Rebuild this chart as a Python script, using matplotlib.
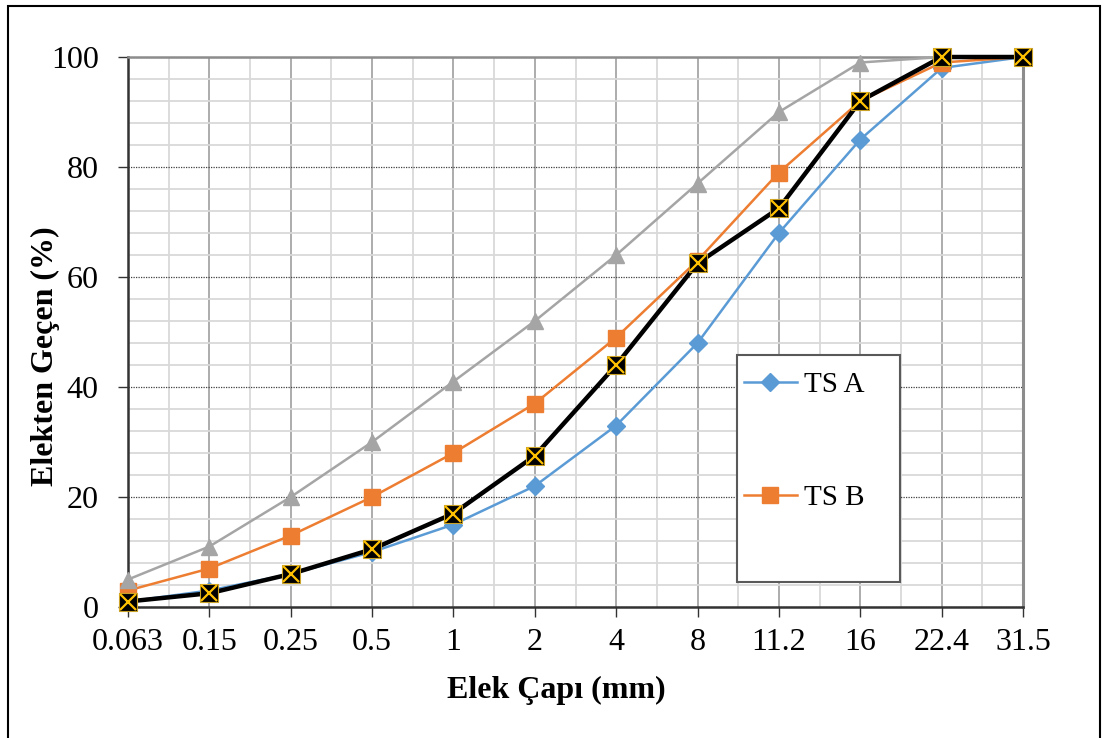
import numpy as np
import matplotlib as mpl
import matplotlib.pyplot as plt
from matplotlib.patches import Rectangle
from matplotlib.ticker import MultipleLocator

mpl.rcParams['font.family'] = 'Liberation Serif'

# sieve sizes (mm) and passing percentages
sieves = ['0.063', '0.15', '0.25', '0.5', '1', '2', '4', '8', '11.2', '16', '22.4', '31.5']
ts_a = [1, 3, 6, 10, 15, 22, 33, 48, 68, 85, 98, 100]
ts_b = [3, 7, 13, 20, 28, 37, 49, 63, 79, 92, 99, 100]
upper = [5, 11, 20, 30, 41, 52, 64, 77, 90, 99, 100, 100]
mix = [1, 2.5, 6, 10.5, 17, 27.5, 44, 62.5, 72.5, 92, 100, 100]

W, H = 1105, 738
fig = plt.figure(figsize=(W / 100, H / 100), dpi=100)
ax = fig.add_axes([128 / W, 1 - 607 / H, (1023 - 128) / W, (607 - 57) / H])

x = np.arange(len(sieves))

#--------------------------------------------------
# grid
#--------------------------------------------------
ax.set_xlim(0, len(sieves) - 1)
ax.set_ylim(0, 100)
ax.set_xticks(x)
ax.set_xticklabels(sieves)
ax.xaxis.set_minor_locator(MultipleLocator(0.5))
ax.yaxis.set_major_locator(MultipleLocator(20))
ax.yaxis.set_minor_locator(MultipleLocator(4))

ax.grid(which='minor', axis='both', color='#d9d9d9', lw=1.3, zorder=0)
ax.grid(which='major', axis='x', color='#a6a6a6', lw=1.3, zorder=0)
ax.grid(which='major', axis='y', color='#404040', lw=0.9, linestyle=(0, (1, 1)), zorder=0)
ax.set_axisbelow(True)

ax.spines['top'].set_color('#8c8c8c')
ax.spines['top'].set_linewidth(1.8)
ax.spines['right'].set_color('#8c8c8c')
ax.spines['right'].set_linewidth(2.2)
ax.spines['left'].set_color('#333333')
ax.spines['left'].set_linewidth(1.8)
ax.spines['bottom'].set_color('#333333')
ax.spines['bottom'].set_linewidth(1.8)

ax.tick_params(which='minor', length=0)
ax.tick_params(axis='x', which='major', direction='out', length=7, width=1, color='#333333',
               labelsize=23, pad=8)
ax.tick_params(axis='y', which='major', direction='out', length=7, width=1, color='#333333',
               labelsize=23, pad=14)

#--------------------------------------------------
# series
#--------------------------------------------------
ax.plot(x, ts_a, color='#5b9bd5', lw=1.8, marker='D', ms=9, label='TS A', zorder=3, clip_on=False)
ax.plot(x, ts_b, color='#ed7d31', lw=1.8, marker='s', ms=11, label='TS B', zorder=3, clip_on=False)
ax.plot(x, upper, color='#a5a5a5', lw=1.8, marker='^', ms=11, zorder=3, clip_on=False)
ax.plot(x, mix, color='black', lw=3.2, marker='s', ms=13, mfc='black', mec='#c9a227', mew=0.8,
        zorder=4, clip_on=False)
ax.plot(x, mix, ls='none', marker='x', ms=11, mec='#ffc000', mew=1.6, zorder=5, clip_on=False)

ax.set_xlabel('Elek Çapı (mm)', fontsize=23, fontweight='bold')
ax.set_ylabel('Elekten Geçen (%)', fontsize=23, fontweight='bold')
ax.xaxis.set_label_coords((556 - 128) / 895, (607 - 676) / 550)
ax.yaxis.set_label_coords((60 - 128) / 895, (607 - 356) / 550)

#--------------------------------------------------
# legend with a taller frame
#--------------------------------------------------
ax.add_patch(Rectangle((737 / W, 1 - 582 / H), (900 - 737) / W, (582 - 355) / H,
                       transform=fig.transFigure, facecolor='white', edgecolor='#595959',
                       lw=1.5, zorder=6, clip_on=False))
leg = ax.legend(loc='upper left', bbox_to_anchor=(744 / W, 1 - 372 / H),
                bbox_transform=fig.transFigure, frameon=False, fontsize=21,
                handlelength=1.8, handletextpad=0.25, labelspacing=2.95, borderpad=0,
                borderaxespad=0)
leg.set_zorder(7)

# outer border
fig.add_artist(Rectangle((8 / W, -0.01), (1100 - 8) / W, 1 - 6 / H + 0.01,
                         transform=fig.transFigure, fill=False, edgecolor='black', lw=1.5))

plt.savefig('out.png', dpi=100)
